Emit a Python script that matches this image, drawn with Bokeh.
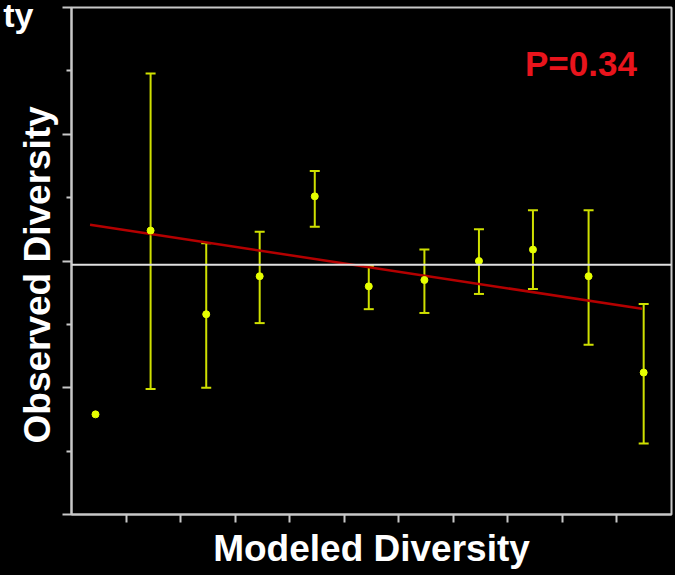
import math
from bokeh.plotting import figure
from bokeh.models import (ColumnDataSource, Range1d, FixedTicker, Whisker, TeeHead,
                          Span, Label, Title)
from bokeh.embed import file_html
from bokeh.resources import INLINE

# ---- data ----
modeled_x = [0.44, 1.45, 2.47, 3.45, 4.46, 5.45, 6.47, 7.47, 8.46, 9.48, 10.49]
observed_y = [0.79, 2.24, 1.58, 1.88, 2.51, 1.80, 1.85, 2.00, 2.09, 1.88, 1.12]
observed_upper = [None, 3.48, 2.14, 2.23, 2.71, 1.96, 2.09, 2.25, 2.40, 2.40, 1.66]
observed_lower = [None, 0.99, 1.00, 1.51, 2.27, 1.62, 1.59, 1.74, 1.78, 1.34, 0.56]
fit_x = [0.34, 10.46]
fit_y = [2.286, 1.623]
ref_level = 1.97
p_text = "P=0.34"
x_label = "Modeled Diversity"
y_label = "Observed Diversity"
corner_text = "ty"
x_ticks = [1, 2, 3, 4, 5, 6, 7, 8, 9, 10]
y_major = [0, 1, 2, 3, 4]
y_minor = [0.5, 1.5, 2.5, 3.5]

FONT = "Liberation Sans"
AXIS_COL = "#c8c8c8"

p = figure(width=675, height=575, output_backend="svg", toolbar_location=None,
           x_range=Range1d(0, 11), y_range=Range1d(0, 4),
           min_border_left=71, min_border_right=4, min_border_top=7,
           min_border_bottom=61)
p.background_fill_color = "black"
p.border_fill_color = "black"
p.outline_line_color = AXIS_COL
p.outline_line_width = 2
p.xgrid.visible = False
p.ygrid.visible = False

for ax in (p.xaxis[0], p.yaxis[0]):
    ax.axis_line_color = AXIS_COL
    ax.axis_line_width = 2
    ax.major_tick_line_color = AXIS_COL
    ax.major_tick_line_width = 2
    ax.minor_tick_line_color = AXIS_COL
    ax.minor_tick_line_width = 2
    ax.major_tick_in = 0
    ax.minor_tick_in = 0
    ax.major_label_text_color = "black"
    ax.major_label_standoff = 0

p.xaxis.ticker = FixedTicker(ticks=x_ticks)
p.xaxis.major_tick_out = 8
p.xaxis.minor_tick_line_color = None
p.xaxis.major_label_overrides = {t: "" for t in x_ticks}

p.yaxis.ticker = FixedTicker(ticks=y_major, minor_ticks=y_minor)
p.yaxis.major_tick_out = 9
p.yaxis.minor_tick_out = 5
p.yaxis.major_label_overrides = {t: "" for t in y_major}

# error bars
idx = [i for i, u in enumerate(observed_upper) if u is not None]
err_src = ColumnDataSource(dict(
    x=[modeled_x[i] for i in idx],
    upper=[observed_upper[i] for i in idx],
    lower=[observed_lower[i] for i in idx],
))
bar_col = "#cfe000"
p.add_layout(Whisker(source=err_src, base="x", upper="upper", lower="lower",
                     line_color=bar_col, line_width=2,
                     upper_head=TeeHead(size=10, line_color=bar_col, line_width=2),
                     lower_head=TeeHead(size=10, line_color=bar_col, line_width=2)))

# regression line
p.line(fit_x, fit_y, line_color="#b40000", line_width=2.5)

# points
p.scatter(modeled_x, observed_y, size=7, fill_color="#e6ff00", line_color="#e6ff00")

# reference horizontal line
p.add_layout(Span(location=ref_level, dimension="width", line_color="#e0e0e0", line_width=2))

# texts
p.add_layout(Label(x=9.34, y=3.56, text=p_text, text_align="center",
                   text_baseline="alphabetic", text_color="#e8141c",
                   text_font=FONT, text_font_style="bold", text_font_size="35px"))

p.add_layout(Title(text=x_label, align="center", text_color="white",
                   text_font=FONT, text_font_style="bold", text_font_size="37px",
                   standoff=6), "below")

# corner text (canvas coordinates), placed in the left panel so it is not clipped
p.add_layout(Label(x=33, y=14, x_units="canvas", y_units="canvas", text=corner_text,
                   text_align="right", text_baseline="middle", text_color="white",
                   text_font=FONT, text_font_style="bold", text_font_size="34px"), "left")

p.add_layout(Title(text=y_label, align="left", text_color="white", offset=71,
                   text_font=FONT, text_font_style="bold", text_font_size="37px",
                   standoff=-51), "left")

html = file_html(p, INLINE, title="Observed vs Modeled Diversity")
html = html.replace("</head>", "<style>html, body { background-color: #000000; }</style></head>", 1)
open("out.html", "w").write(html)
